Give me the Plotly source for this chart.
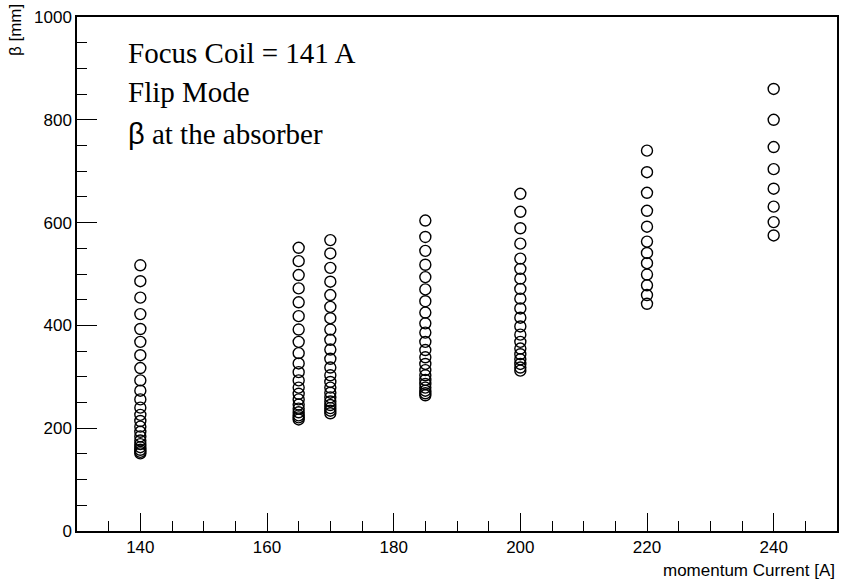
import plotly.graph_objects as go

# Beta at the absorber for each momentum-coil current setting
currents = [140, 165, 170, 185, 200, 220, 240]

beta_140 = [517, 486, 454, 422, 393, 368, 342, 317, 293, 273, 256, 240,
            226, 214, 203, 193, 184, 176, 169, 163, 158, 154, 151]
beta_165 = [551, 525, 498, 472, 445, 418, 392, 368, 346, 326, 309, 293,
            279, 267, 256, 246, 238, 231, 225, 221, 217]
beta_170 = [566, 540, 512, 485, 459, 436, 414, 392, 372, 353, 335, 318,
            303, 290, 279, 269, 260, 252, 245, 239, 234, 229]
beta_185 = [604, 572, 545, 518, 494, 470, 447, 425, 404, 386, 368, 352,
            338, 325, 313, 303, 294, 286, 279, 273, 268, 264]
beta_200 = [656, 621, 589, 559, 530, 510, 491, 471, 452, 433, 415, 398,
            382, 368, 355, 344, 334, 325, 318, 312]
beta_220 = [740, 698, 658, 623, 592, 563, 541, 521, 499, 478, 459, 442]
beta_240 = [860, 800, 747, 704, 666, 631, 601, 575]

series = [beta_140, beta_165, beta_170, beta_185, beta_200, beta_220, beta_240]

info_lines = ["Focus Coil = 141 A", "Flip Mode", "at the absorber"]

xs, ys = [], []
for cur, vals in zip(currents, series):
    xs += [cur] * len(vals)
    ys += vals

fig = go.Figure()
fig.add_trace(go.Scatter(
    x=xs, y=ys, mode="markers",
    marker=dict(symbol="circle-open", size=11, color="black",
                line=dict(width=1.4, color="black")),
    showlegend=False, cliponaxis=False,
))

sans = "Liberation Sans, Arial, sans-serif"
axis_font = dict(family=sans, size=17, color="black")

fig.update_xaxes(
    range=[130, 250], tickvals=[140, 160, 180, 200, 220, 240],
    ticks="inside", ticklen=18, tickwidth=1, tickcolor="black",
    minor=dict(dtick=5, tick0=0, ticks="inside", ticklen=10, tickcolor="black", tickwidth=1),
    showgrid=False, zeroline=False, showline=True, linecolor="black", linewidth=1.5,
    mirror=True, tickfont=axis_font,
)
fig.update_yaxes(
    range=[0, 1000], tickvals=[0, 200, 400, 600, 800, 1000],
    ticks="inside", ticklen=20, tickwidth=1, tickcolor="black",
    minor=dict(dtick=50, tick0=0, ticks="inside", ticklen=10, tickcolor="black", tickwidth=1),
    showgrid=False, zeroline=False, showline=True, linecolor="black", linewidth=1.5,
    mirror=True, tickfont=axis_font,
)

serif = "Liberation Serif, Times New Roman, serif"
txt_font = dict(family=serif, size=29, color="black")
# info box, one annotation per line
fig.add_annotation(xref="paper", yref="paper", x=0.065, y=0.93,
                   xanchor="left", yanchor="middle", showarrow=False,
                   text=info_lines[0], font=txt_font)
fig.add_annotation(xref="paper", yref="paper", x=0.065, y=0.855,
                   xanchor="left", yanchor="middle", showarrow=False,
                   text=info_lines[1], font=txt_font)
fig.add_annotation(xref="paper", yref="paper", x=0.065, y=0.772,
                   xanchor="left", yanchor="middle", showarrow=False,
                   text=("<span style='font-family:Liberation Sans, DejaVu Sans, sans-serif'>β</span> "
                         + info_lines[2]),
                   font=txt_font)

fig.add_annotation(
    xref="paper", yref="paper", x=1.0, y=-0.055, xanchor="right", yanchor="top",
    text="momentum Current [A]", showarrow=False,
    font=dict(family=sans, size=17, color="black"),
)
fig.add_annotation(
    xref="paper", yref="paper", x=-0.081, y=1.03, xanchor="center", yanchor="top",
    text="β [mm]", textangle=-90, showarrow=False,
    font=dict(family=sans, size=17, color="black"),
)

fig.update_layout(
    width=842, height=583,
    margin=dict(l=77, r=3, t=17, b=52),
    plot_bgcolor="white", paper_bgcolor="white",
)

fig.write_html("out.html")
